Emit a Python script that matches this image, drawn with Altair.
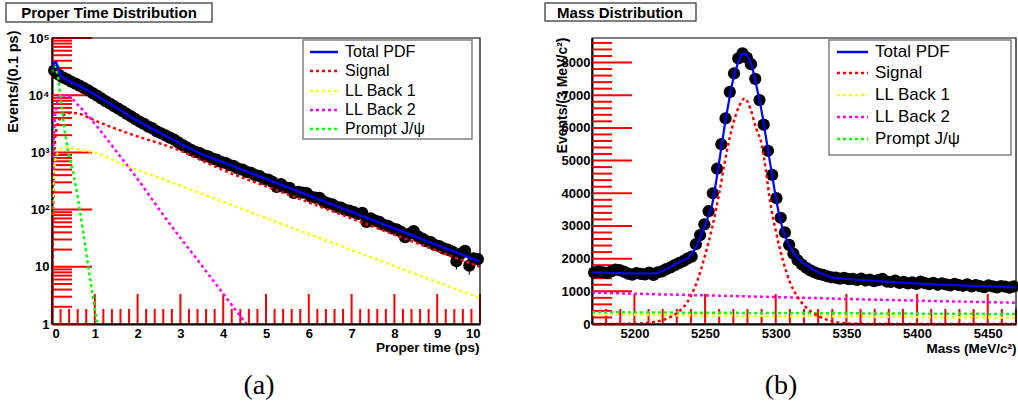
import altair as alt
import pandas as pd

W, H = 1018, 414
SANS = "Liberation Sans"
SERIF = "Liberation Serif"

# ---------------- panel (a): proper time ----------------
t_centers = [round(0.05 + 0.1 * i, 2) for i in range(100)]
t_counts = [
    27000, 23000, 20500, 19000, 17200, 15900, 14600, 13300, 12100, 10900,
    9850, 8800, 7900, 7150, 6450, 5800, 5250, 4700, 4250, 3800,
    3430, 3150, 2830, 2620, 2330, 2160, 1990, 1810, 1680, 1500,
    1340, 1220, 1110, 1020, 975, 890, 850, 780, 745, 680,
    655, 600, 575, 520, 500, 455, 440, 400, 385, 345,
    335, 305, 250, 280, 245, 240, 195, 205, 198, 195,
    168, 162, 160, 138, 128, 124, 112, 108, 99, 96,
    90, 84, 88, 61, 70, 64, 61, 54, 52, 47,
    45, 41, 33, 38, 42, 34, 31, 28, 27, 24,
    23, 21, 20, 18.5, 12.5, 17, 19, 10.5, 14, 13.6,
]
t_total_x = [0.0, 0.05, 0.09, 0.15, 0.22, 0.3, 0.5, 0.75, 1.0, 1.4, 2.0, 2.5, 3.0, 3.5, 4.0, 5.0, 6.0, 7.0, 8.0, 9.0, 10.0]
t_total_y = [29000, 36000, 38000, 28000, 21500, 19500, 16200, 13200, 10200, 6800, 3550, 2240, 1430, 931, 668, 344, 177, 91, 46.7, 24, 12.3]
t_sig_x = [0.0, 0.02, 0.05, 0.1, 0.2, 0.3, 0.4, 0.6, 0.8, 1.0, 1.4, 2.0, 2.5, 3.0, 3.5, 4.0, 5.0, 6.0, 7.0, 8.0, 9.0, 10.0]
t_sig_y = [1, 30, 800, 2500, 4000, 4600, 4900, 4800, 4250, 3630, 2750, 1900, 1450, 1070, 724, 490, 256, 134, 70, 36.5, 19, 10]
t_b1_x = [0.0, 0.05, 0.1, 0.2, 0.34, 0.54, 1.0, 1.63, 2.5, 3.5, 4.8, 6.0, 7.0, 8.0, 9.0, 10.0]
t_b1_y = [80, 500, 850, 1100, 1240, 1150, 1000, 630, 360, 189, 81, 37.5, 19.7, 10.3, 5.4, 2.85]
t_b2_x = [0.0, 0.05, 0.1, 0.2, 0.35, 0.6, 0.85, 1.12, 1.5, 1.9, 2.69, 3.47, 4.54]
t_b2_y = [300, 2500, 6300, 10000, 10000, 6800, 4300, 2450, 1050, 430, 65, 11.2, 1.0]
t_pr_x = [0.0, 0.05, 0.1, 0.15, 0.2, 0.25, 0.3, 0.4, 0.5, 0.73, 0.9, 1.06]
t_pr_y = [25000, 32000, 28000, 19000, 8500, 4500, 2300, 900, 430, 40, 5.5, 1.0]

# ---------------- panel (b): mass ----------------
m_centers = [5171.5 + 3 * i for i in range(100)]
m_counts = [
    1570, 1600, 1580, 1560, 1610, 1660, 1650, 1600, 1540, 1510,
    1560, 1530, 1520, 1570, 1500, 1580, 1610, 1680, 1730, 1800,
    1860, 1920, 2000, 2060, 2440, 2720, 3050, 3450, 4000, 4750,
    5500, 6290, 7104, 7666, 8125, 8278, 8150, 7950, 7500, 6850,
    6100, 5300, 4560, 3850, 3250, 2800, 2420, 2150, 1950, 1820,
    1720, 1640, 1580, 1530, 1500, 1460, 1430, 1420, 1390, 1410,
    1370, 1380, 1350, 1390, 1330, 1360, 1310, 1340, 1380, 1300,
    1290, 1330, 1260, 1290, 1240, 1270, 1230, 1300, 1250, 1220,
    1260, 1200, 1240, 1210, 1180, 1230, 1190, 1170, 1210, 1150,
    1190, 1160, 1130, 1180, 1150, 1120, 1160, 1140, 1110, 1150,
]
m_tot_x = [5170, 5185, 5200, 5212, 5220, 5227, 5233, 5239, 5243, 5247,
           5251, 5255, 5258, 5261, 5264, 5267, 5270, 5273, 5276, 5278,
           5280, 5283, 5286, 5289, 5292, 5295, 5298, 5301, 5304, 5307,
           5310, 5314, 5317, 5322, 5327, 5333, 5338, 5345, 5362, 5380,
           5397, 5420, 5445, 5470]
m_tot_y = [1580, 1560, 1545, 1545, 1620, 1780, 1920, 2060, 2300, 2700,
           3150, 3650, 4400, 5250, 6100, 6850, 7500, 7950, 8250, 8280,
           8200, 7900, 7350, 6750, 6000, 5200, 4400, 3650, 3050, 2650,
           2364, 2100, 1957, 1790, 1651, 1530, 1447, 1400, 1346, 1290,
           1244, 1200, 1160, 1122]
m_sig_x = [5170, 5185, 5200, 5205, 5210, 5215, 5220, 5225, 5230, 5235,
           5240, 5245, 5250, 5255, 5260, 5265, 5270, 5274, 5278, 5282,
           5286, 5290, 5293, 5296, 5300, 5305, 5310, 5315, 5320, 5325,
           5330, 5335, 5340, 5345, 5350, 5360, 5375, 5470]
m_sig_y = [0, 0, 8, 18, 40, 70, 120, 200, 330, 530,
           860, 1380, 2100, 2950, 4000, 5200, 6150, 6650, 6900, 6600,
           6000, 5500, 4700, 3740, 2850, 1960, 1280, 860, 570, 380,
           240, 150, 80, 40, 18, 5, 0, 0]
m_b1_x = [5170, 5320, 5470]
m_b1_y = [290, 240, 195]
m_b2_x = [5170, 5220, 5270, 5320, 5370, 5420, 5470]
m_b2_y = [960, 905, 855, 800, 745, 695, 650]
m_pr_x = [5170, 5320, 5470]
m_pr_y = [360, 332, 306]

# ---------------- legend / ticks ----------------
legend_names = ["Total PDF", "Signal", "LL Back 1", "LL Back 2", "Prompt J/\u03c8"]
legend_colors = ["#0000ff", "#ff0000", "#ffff00", "#ff00ff", "#00ff00"]
DOT = [3, 3]

ta_major = list(range(0, 11))
ta_minor = [round(0.2 * i, 1) for i in range(51) if i % 5 != 0]
ya_major = [1, 10, 100, 1000, 10000, 100000]
ya_minor = [k * 10 ** d for d in range(5) for k in range(2, 10)]
mb_major = [5200, 5250, 5300, 5350, 5400, 5450]
mb_minor = [v for v in range(5180, 5471, 10) if v % 50 != 0]
yb_major = list(range(0, 8001, 1000))
yb_minor = [v for v in range(200, 8700, 200) if v % 1000 != 0]

X0A, X1A, X0B, X1B, YB, YT = 52, 480, 592, 1016, 324, 38
TICK = "red"


def lab_axis(orient, offset, values, title, **kw):
    return alt.Axis(orient=orient, offset=offset, values=values, ticks=False, grid=False,
                    domain=True, domainColor="black", domainWidth=2,
                    labelFont=SANS, labelFontSize=13, labelFontWeight="bold", labelColor="black",
                    title=title, titleFont=SANS, titleFontWeight="bold", titleColor="black",
                    titleBaseline="middle", titleAlign="right", **kw)


def curve(xs, ys, color, xsc, ysc, dash=None, width=2.5):
    df = pd.DataFrame({"x": xs, "y": ys})
    kw = dict(color=color, strokeWidth=width, interpolate="monotone")
    if dash:
        kw["strokeDash"] = dash
    return alt.Chart(df).mark_line(**kw).encode(
        x=alt.X("x:Q", scale=xsc, axis=None),
        y=alt.Y("y:Q", scale=ysc, axis=None),
    )


def xticks(values, scale, length):
    return alt.Chart(pd.DataFrame({"tx": values})).mark_rule(color=TICK, strokeWidth=2).encode(
        x=alt.X("tx:Q", scale=scale, axis=None), y=alt.value(YB), y2=alt.value(YB - length))


def yticks(values, scale, x0, length):
    return alt.Chart(pd.DataFrame({"ty": values})).mark_rule(color=TICK, strokeWidth=2).encode(
        y=alt.Y("ty:Q", scale=scale, axis=None), x=alt.value(x0), x2=alt.value(x0 + length))


# ---------------- panel (a) ----------------
xa = alt.Scale(domain=[0, 10], range=[X0A, X1A], nice=False, zero=False)
ya = alt.Scale(type="log", domain=[1, 100000], range=[YB, YT], nice=False)
sup = ("datum.value == 100000 ? '10\u2075' : datum.value == 10000 ? '10\u2074' : "
       "datum.value == 1000 ? '10\u00b3' : datum.value == 100 ? '10\u00b2' : "
       "datum.value == 10 ? '10' : '1'")

df_ta = pd.DataFrame({"t": t_centers, "n": t_counts})
pts_a = alt.Chart(df_ta).mark_circle(size=150, color="black", opacity=1).encode(
    x=alt.X("t:Q", scale=xa, axis=lab_axis("bottom", -(H - YB), ta_major, "Proper time (ps)",
                                            format="d", labelPadding=3, titleX=479, titleY=23,
                                            titleAngle=0, titleFontSize=13.5)),
    y=alt.Y("n:Q", scale=ya, axis=lab_axis("left", -X0A, ya_major, "Events/(0.1 ps)",
                                            labelExpr=sup, labelPadding=3, titleX=-39, titleY=30,
                                            titleAngle=270, titleFontSize=14.5)),
)
err_a = alt.Chart(df_ta).transform_calculate(
    lo="datum.n - sqrt(datum.n)", hi="datum.n + sqrt(datum.n)"
).mark_rule(color="black", strokeWidth=1).encode(
    x=alt.X("t:Q", scale=xa, axis=None),
    y=alt.Y("lo:Q", scale=ya, axis=None),
    y2="hi:Q",
)
layers_a = [
    xticks(ta_major, xa, 30), xticks(ta_minor, xa, 15),
    yticks(ya_major, ya, X0A, 40), yticks(ya_minor, ya, X0A, 20),
    err_a, pts_a,
    curve(t_sig_x, t_sig_y, "#ff0000", xa, ya, DOT),
    curve(t_b1_x, t_b1_y, "#ffff00", xa, ya, DOT),
    curve(t_b2_x, t_b2_y, "#ff00ff", xa, ya, DOT),
    curve(t_pr_x, t_pr_y, "#00ff00", xa, ya, DOT),
    curve(t_total_x, t_total_y, "#0000ff", xa, ya),
]

# ---------------- panel (b) ----------------
xb = alt.Scale(domain=[5170, 5470], range=[X0B, X1B], nice=False, zero=False)
yb = alt.Scale(domain=[0, 8750], range=[YB, YT], nice=False, zero=False)

df_mb = pd.DataFrame({"m": m_centers, "n": m_counts})
pts_b = alt.Chart(df_mb).mark_circle(size=150, color="black", opacity=1).encode(
    x=alt.X("m:Q", scale=xb, axis=lab_axis("bottom", -(H - YB), mb_major, "Mass (MeV/c\u00b2)",
                                            format="d", labelPadding=3, titleX=1016, titleY=24,
                                            titleAngle=0, titleFontSize=13.5)),
    y=alt.Y("n:Q", scale=yb, axis=lab_axis("left", -X0B, yb_major, "Events/(3 MeV/c\u00b2)",
                                            format="d", labelPadding=2, titleX=-30, titleY=37,
                                            titleAngle=270, titleFontSize=14)),
)
layers_b = [
    xticks(mb_major, xb, 30), xticks(mb_minor, xb, 15),
    yticks(yb_major, yb, X0B, 40), yticks(yb_minor, yb, X0B, 20),
    pts_b,
    curve(m_b2_x, m_b2_y, "#ff00ff", xb, yb, DOT),
    curve(m_pr_x, m_pr_y, "#00ff00", xb, yb, DOT),
    curve(m_b1_x, m_b1_y, "#ffff00", xb, yb, DOT),
    curve(m_sig_x, m_sig_y, "#ff0000", xb, yb, DOT),
    curve(m_tot_x, m_tot_y, "#0000ff", xb, yb, width=2.2),
]

# ---------------- decorations ----------------
one = pd.DataFrame({"d": [0]})


def rect(x1, x2, y1, y2, stroke, sw, filled=True):
    if filled:
        mk = alt.Chart(one).mark_rect(fill="white", stroke=stroke, strokeWidth=sw)
    else:
        mk = alt.Chart(one).mark_rect(filled=False, stroke=stroke, strokeWidth=sw)
    return mk.encode(x=alt.value(x1), x2=alt.value(x2), y=alt.value(y1), y2=alt.value(y2))


def label(txt, x, y, size, weight="normal", align="left", font=SANS):
    return alt.Chart(one).mark_text(text=txt, align=align, baseline="middle", fontSize=size,
                                    fontWeight=weight, font=font, color="black").encode(
        x=alt.value(x), y=alt.value(y))


def sample(x1, x2, y, color, dashed):
    kw = dict(color=color, strokeWidth=2.5)
    if dashed:
        kw["strokeDash"] = DOT
    return alt.Chart(one).mark_rule(**kw).encode(x=alt.value(x1), x2=alt.value(x2), y=alt.value(y))


decor = []
decor.append(rect(X0A, X1A, YT, YB, "black", 1.2, filled=False))
decor.append(rect(X0B, X1B, YT, YB, "black", 1.2, filled=False))
decor.append(rect(6, 212, 3, 22, "#555555", 1.5))
decor.append(label("Proper Time Distribution", 109, 13, 15, "bold", "center"))
decor.append(rect(545, 696, 3, 21, "#555555", 1.5))
decor.append(label("Mass Distribution", 620, 12.5, 15, "bold", "center"))

decor.append(rect(303, 472, 40, 139, "#808080", 1.5))
for i, (nm, c) in enumerate(zip(legend_names, legend_colors)):
    yy = [52, 71, 91, 110, 129][i]
    decor.append(sample(310, 338, yy, c, i > 0))
    decor.append(label(nm, 345, yy, 16))

decor.append(rect(829, 1011, 40, 155, "#808080", 1.5))
for i, (nm, c) in enumerate(zip(legend_names, legend_colors)):
    yy = [52, 73, 95, 117, 139][i]
    decor.append(sample(837, 868, yy, c, i > 0))
    decor.append(label(nm, 875, yy, 17))

decor.append(label("(a)", 259, 386, 28, "normal", "center", SERIF))
decor.append(label("(b)", 781, 386, 28, "normal", "center", SERIF))

chart = alt.layer(*layers_a, *layers_b, *decor).resolve_scale(
    x="independent", y="independent"
).resolve_axis(
    x="independent", y="independent"
).properties(
    width=W, height=H, padding=0, autosize=alt.AutoSizeParams(type="none"),
    background="white",
).configure_view(stroke=None)

chart.save("out.html", embed_options={"renderer": "svg", "actions": False})
